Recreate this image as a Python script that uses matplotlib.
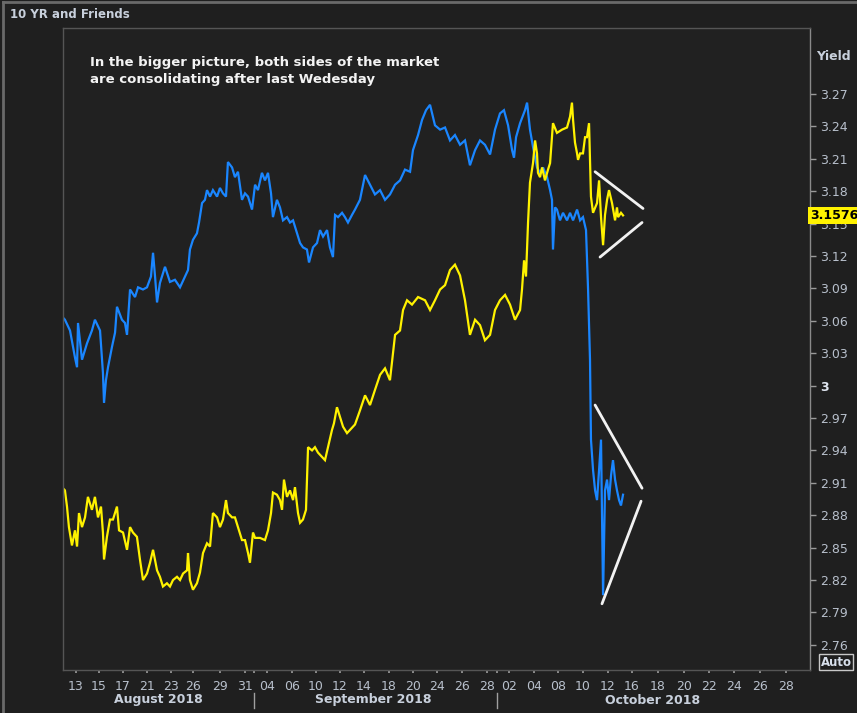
import matplotlib
matplotlib.use("Agg")
import matplotlib.pyplot as plt
import matplotlib.transforms as mtrans
from matplotlib.lines import Line2D

# ---------------- data (x = trading-session index, Aug 13 = 0) ----------------
blue_t = [-0.99, -0.83, -0.41, 0.00, 0.17, 0.25, 0.58, 0.99, 1.40, 1.65, 2.07, 2.31, 2.40, 2.56, 2.73,
          3.06, 3.31, 3.47, 3.88, 4.13, 4.30, 4.55, 4.96, 5.21, 5.62, 5.95, 6.28, 6.45, 6.61, 6.78,
          7.02, 7.44, 7.85, 8.26, 8.68, 9.09, 9.34, 9.50, 9.75, 10.08, 10.25, 10.50, 10.74, 10.91,
          11.16, 11.40, 11.74, 11.98, 12.23, 12.48, 12.64, 12.98, 13.22, 13.47, 13.80, 14.05, 14.30,
          14.63, 14.88, 15.12, 15.45, 15.70, 15.95, 16.20, 16.36, 16.69, 16.94, 17.19, 17.52, 17.77,
          18.02, 18.35, 18.60, 18.84, 19.17, 19.34, 19.67, 20.00, 20.25, 20.50, 20.83, 21.07, 21.32,
          21.49, 21.74, 22.07, 22.31, 22.56, 22.89, 23.14, 23.55, 23.97, 24.38, 24.79, 25.21, 25.62,
          26.03, 26.45, 26.86, 27.27, 27.69, 27.93, 28.35, 28.68, 29.01, 29.34, 29.75, 30.17, 30.58,
          30.99, 31.40, 31.82, 32.23, 32.64, 33.06, 33.47, 33.88, 34.30, 34.71, 35.12, 35.45, 35.79,
          36.12, 36.28, 36.45, 36.78, 37.19, 37.36, 37.60, 37.85, 38.18, 38.43, 38.68, 39.01, 39.26,
          39.42, 39.50, 39.67, 39.83, 40.08, 40.33, 40.66, 40.91, 41.16, 41.49, 41.74, 41.98, 42.23,
          42.40, 42.56, 42.64, 42.81, 42.98, 43.14, 43.31, 43.47, 43.64, 43.80, 43.97, 44.13, 44.30,
          44.46, 44.63, 44.79, 44.96, 45.12, 45.29]
blue_v = [3.063, 3.061, 3.051, 3.026, 3.017, 3.058, 3.024, 3.039, 3.051, 3.061, 3.051, 3.012, 2.984, 3.005, 3.017,
          3.036, 3.049, 3.073, 3.061, 3.058, 3.047, 3.089, 3.082, 3.091, 3.089, 3.091, 3.101, 3.123, 3.102, 3.077,
          3.095, 3.110, 3.096, 3.098, 3.091, 3.101, 3.107, 3.126, 3.135, 3.141, 3.151, 3.169, 3.172, 3.181,
          3.175, 3.181, 3.175, 3.183, 3.178, 3.175, 3.207, 3.202, 3.193, 3.198, 3.172, 3.178, 3.175,
          3.163, 3.186, 3.181, 3.197, 3.190, 3.197, 3.178, 3.156, 3.172, 3.165, 3.153, 3.156, 3.151,
          3.153, 3.141, 3.132, 3.128, 3.126, 3.114, 3.128, 3.132, 3.144, 3.138, 3.144, 3.128, 3.119,
          3.158, 3.156, 3.160, 3.156, 3.151, 3.158, 3.163, 3.172, 3.195, 3.186, 3.177, 3.181, 3.172,
          3.177, 3.186, 3.190, 3.200, 3.198, 3.218, 3.232, 3.246, 3.255, 3.260, 3.241, 3.237, 3.239,
          3.227, 3.232, 3.223, 3.227, 3.204, 3.218, 3.227, 3.223, 3.214, 3.237, 3.252, 3.255, 3.241,
          3.218, 3.211, 3.230, 3.243, 3.255, 3.262, 3.237, 3.221, 3.202, 3.197, 3.202, 3.193, 3.181,
          3.172, 3.126, 3.165, 3.163, 3.153, 3.160, 3.153, 3.160, 3.153, 3.163, 3.153, 3.156, 3.144,
          3.089, 3.024, 2.950, 2.922, 2.903, 2.894, 2.922, 2.950, 2.806, 2.903, 2.913, 2.894, 2.917,
          2.931, 2.913, 2.903, 2.894, 2.889, 2.899]

yellow_t = [-0.99, -0.83, -0.66, -0.50, -0.25, 0.00, 0.17, 0.33, 0.58, 0.83, 1.07, 1.40, 1.65, 1.90, 2.15,
            2.31, 2.40, 2.64, 2.89, 3.14, 3.47, 3.64, 3.97, 4.30, 4.55, 4.79, 5.12, 5.37, 5.62, 5.95,
            6.20, 6.45, 6.78, 7.02, 7.27, 7.60, 7.85, 8.10, 8.43, 8.68, 8.93, 9.26, 9.34, 9.50, 9.75,
            10.08, 10.33, 10.58, 10.91, 11.16, 11.40, 11.74, 11.98, 12.23, 12.48, 12.64, 12.98, 13.22,
            13.47, 13.80, 14.05, 14.30, 14.46, 14.71, 14.88, 15.29, 15.70, 15.95, 16.20, 16.36, 16.69,
            16.94, 17.11, 17.27, 17.52, 17.77, 18.02, 18.18, 18.43, 18.60, 18.84, 19.09, 19.26, 19.59,
            19.83, 20.08, 20.41, 20.66, 20.91, 21.24, 21.40, 21.65, 21.90, 22.15, 22.48, 22.73, 23.14,
            23.55, 23.97, 24.38, 24.79, 25.21, 25.62, 26.03, 26.45, 26.86, 27.11, 27.44, 27.85, 28.35,
            28.93, 29.34, 29.75, 30.17, 30.58, 30.99, 31.40, 31.82, 32.23, 32.64, 33.06, 33.47, 33.88,
            34.30, 34.71, 35.12, 35.54, 35.95, 36.36, 36.78, 36.94, 37.11, 37.27, 37.44, 37.60, 37.77,
            37.85, 38.02, 38.18, 38.26, 38.43, 38.60, 38.84, 39.09, 39.26, 39.42, 39.50, 39.83, 40.25,
            40.66, 40.91, 41.07, 41.16, 41.32, 41.49, 41.57, 41.74, 41.98, 42.15, 42.31, 42.48, 42.64,
            42.81, 43.14, 43.31, 43.47, 43.64, 43.80, 43.97, 44.13, 44.38, 44.63, 44.79, 44.88, 45.12,
            45.29]
yellow_v = [2.905, 2.903, 2.888, 2.869, 2.852, 2.866, 2.851, 2.882, 2.869, 2.878, 2.897, 2.885, 2.897, 2.878, 2.888,
            2.864, 2.839, 2.860, 2.876, 2.876, 2.888, 2.866, 2.864, 2.848, 2.869, 2.864, 2.860, 2.839, 2.820, 2.826,
            2.836, 2.848, 2.829, 2.823, 2.814, 2.817, 2.814, 2.820, 2.823, 2.820, 2.826, 2.829, 2.845, 2.820, 2.811,
            2.817, 2.827, 2.845, 2.854, 2.851, 2.882, 2.878, 2.869, 2.876, 2.894, 2.882, 2.878, 2.878,
            2.869, 2.857, 2.857, 2.845, 2.836, 2.864, 2.859, 2.859, 2.857, 2.866, 2.882, 2.901, 2.899,
            2.894, 2.885, 2.913, 2.897, 2.903, 2.894, 2.906, 2.882, 2.873, 2.876, 2.885, 2.943, 2.940,
            2.943, 2.938, 2.934, 2.931, 2.943, 2.959, 2.965, 2.980, 2.971, 2.962, 2.956, 2.959, 2.964,
            2.977, 2.991, 2.982, 2.996, 3.010, 3.016, 3.005, 3.047, 3.051, 3.070, 3.079, 3.075, 3.082,
            3.079, 3.070, 3.079, 3.089, 3.093, 3.107, 3.112, 3.102, 3.079, 3.047, 3.061, 3.056, 3.042,
            3.047, 3.070, 3.079, 3.084, 3.075, 3.061, 3.070, 3.089, 3.116, 3.101, 3.151, 3.188, 3.200,
            3.206, 3.227, 3.215, 3.197, 3.193, 3.202, 3.190, 3.200, 3.206, 3.230, 3.243, 3.234, 3.237,
            3.239, 3.249, 3.262, 3.246, 3.225, 3.215, 3.209, 3.215, 3.215, 3.230, 3.230, 3.243, 3.175,
            3.160, 3.169, 3.190, 3.156, 3.130, 3.158, 3.172, 3.181, 3.169, 3.153, 3.165, 3.156, 3.160,
            3.1576]

last_value = 3.1576

xtick_pos = [0.08, 1.98, 3.97, 5.95, 7.93, 9.75, 11.98, 14.05, 15.87, 17.93, 19.92, 21.9, 23.88, 25.95,
             27.93, 29.92, 31.98, 34.05, 35.87, 37.93, 39.92, 41.98, 44.05, 46.03, 48.18, 50.33, 52.4,
             54.46, 56.6, 58.76]
xtick_labels = ['13', '15', '17', '21', '23', '26', '29', '31', '04', '06', '10', '12', '14', '18',
                '20', '24', '26', '28', '02', '04', '08', '10', '12', '16', '18', '20', '22', '24', '26', '28']
month_bounds = [14.79, 34.88]
month_names = ['August 2018', 'September 2018', 'October 2018']
month_centers = [6.86, 24.63, 47.77]

ytick_vals = [2.76, 2.79, 2.82, 2.85, 2.88, 2.91, 2.94, 2.97, 3.00, 3.03, 3.06, 3.09, 3.12, 3.15,
              3.18, 3.21, 3.24, 3.27]
ytick_labels = ['2.76', '2.79', '2.82', '2.85', '2.88', '2.91', '2.94', '2.97', '3', '3.03', '3.06',
                '3.09', '3.12', '3.15', '3.18', '3.21', '3.24', '3.27']

# triangle annotation lines (t, yield)
tri_upper = [[(42.98, 3.198), (46.94, 3.164)], [(43.39, 3.119), (46.86, 3.151)]]
tri_lower = [[(42.98, 2.982), (46.86, 2.905)], [(43.55, 2.798), (46.78, 2.893)]]

# ---------------- figure ----------------
BG = '#1f1f1f'
TXT = '#b8c0cc'
fig = plt.figure(figsize=(8.57, 7.13), dpi=100, facecolor=BG)
ax = fig.add_axes([63 / 857, 1 - 670 / 713, (810 - 63) / 857, (670 - 28) / 713])
ax.set_facecolor('#212121')

ax.plot(blue_t, blue_v, color='#1a86ff', lw=1.6, solid_joinstyle='miter')
ax.plot(yellow_t, yellow_v, color='#fff200', lw=1.6, solid_joinstyle='miter')

for seg in tri_upper + tri_lower:
    (x0, y0), (x1, y1) = seg
    ax.plot([x0, x1], [y0, y1], color='#f2f2f2', lw=2.0, solid_capstyle='round')

ax.set_xlim(-0.99, 60.74)
ax.set_ylim(2.7367, 3.3311)

ax.yaxis.tick_right()
ax.set_yticks(ytick_vals)
ax.set_yticklabels(ytick_labels)
ax.tick_params(axis='y', colors='#9a9a9a', labelcolor=TXT, length=4, width=1, pad=3, labelsize=9)
for lab in ax.get_yticklabels():
    if lab.get_text() == '3':
        lab.set_color('#e0e6f0')
        lab.set_fontweight('bold')

ax.set_xticks(xtick_pos)
ax.set_xticklabels(xtick_labels)
ax.set_xticks(month_bounds, minor=True)
ax.tick_params(axis='x', which='both', colors='#a0a0a0', labelcolor=TXT, length=2.5, width=1.2,
               pad=5, labelsize=9)

for s in ['left', 'top', 'bottom']:
    ax.spines[s].set_color('#555555')
    ax.spines[s].set_linewidth(1.0)
ax.spines['right'].set_color('#8a8a8a')
ax.spines['right'].set_linewidth(1.0)

# month labels & separators
trans = mtrans.blended_transform_factory(ax.transData, fig.transFigure)
for name, c in zip(month_names, month_centers):
    ax.text(c, 1 - 700 / 713, name, transform=trans, ha='center', va='center',
            fontsize=9, fontweight='bold', color='#c8d0dc', clip_on=False)
for b in month_bounds:
    ax.add_line(Line2D([b, b], [1 - 708 / 713, 1 - 693 / 713], transform=trans,
                       color='#a0a0a0', lw=1.0, clip_on=False))

# last value badge
btrans = mtrans.blended_transform_factory(ax.transAxes, ax.transData)
ax.text(1.0, last_value, f'{last_value:.4f}', transform=btrans, ha='left', va='center',
        fontsize=9, fontweight='bold', color='black', clip_on=False,
        bbox=dict(boxstyle='square,pad=0.15', facecolor='#fff200', edgecolor='none'))

# axis unit label and Auto box
fig.text(833 / 857, 1 - 56 / 713, 'Yield', ha='center', va='center', fontsize=9,
         fontweight='bold', color='#c8d0dc')
fig.text(836 / 857, 1 - 662 / 713, 'Auto', ha='center', va='center', fontsize=8.5,
         fontweight='bold', color='#d8e0ec',
         bbox=dict(boxstyle='square,pad=0.12', facecolor='none', edgecolor='#c8c8c8', lw=1))

# title and commentary
fig.text(10 / 857, 1 - 15 / 713, '10 YR and Friends', ha='left', va='center', fontsize=8.5,
         fontweight='bold', color='#c8d0dc')
fig.text(90 / 857, 1 - 56 / 713,
         'In the bigger picture, both sides of the market\nare consolidating after last Wedesday',
         ha='left', va='top', fontsize=9.5, fontweight='bold', color='#f4f4f4', linespacing=1.45)

# outer frame lines (left and top)
fig.add_artist(Line2D([3 / 857, 3 / 857], [0, 1 - 2 / 713], transform=fig.transFigure,
                      color='#6a6a6a', lw=2))
fig.add_artist(Line2D([3 / 857, 1], [1 - 2 / 713, 1 - 2 / 713], transform=fig.transFigure,
                      color='#6a6a6a', lw=2))

fig.savefig('out.png', dpi=100, facecolor=BG)
